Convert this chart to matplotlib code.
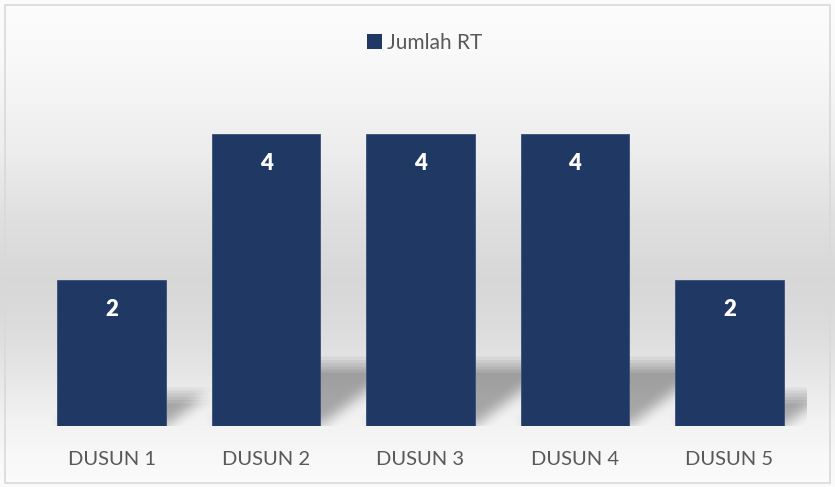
import numpy as np
import matplotlib
matplotlib.use("Agg")
import matplotlib.pyplot as plt
from matplotlib.patches import Rectangle, Patch, Polygon
import matplotlib.transforms as mtransforms

categories = ["DUSUN 1", "DUSUN 2", "DUSUN 3", "DUSUN 4", "DUSUN 5"]
values = [2, 4, 4, 4, 2]
series_name = "Jumlah RT"

BAR = "#203864"
TXT = "#595959"
FONT = "Lato"

W, H = 835, 487
fig = plt.figure(figsize=(W / 100, H / 100), dpi=100)
fig.patch.set_facecolor("white")

# background gradient
bg = fig.add_axes([0, 0, 1, 1], zorder=0)
bg.set_axis_off()
ys = np.array([0, 60, 150, 220, 280, 330, 380, 420, 460, 487])
gs = np.array([0.99, 0.975, 0.93, 0.875, 0.845, 0.865, 0.91, 0.95, 0.975, 0.985])
yy = np.arange(H)
col = np.interp(yy, ys, gs)
img = np.repeat(col[:, None], 2, axis=1)
bg.imshow(np.dstack([img, img, img]), aspect="auto", extent=[0, 1, 0, 1], origin="upper")
bg.add_patch(Rectangle((5 / W, 4 / H), 825 / W, 478 / H, transform=bg.transAxes,
                       fill=False, edgecolor="#d9d9d9", linewidth=1.2))
bg.set_xlim(0, 1)
bg.set_ylim(0, 1)

left = 34.25 / W
right = 806.75 / W
bottom = (H - 426) / H
top = (H - 61) / H
ax = fig.add_axes([left, bottom, right - left, top - bottom], zorder=1)
ax.patch.set_alpha(0)
x = np.arange(len(categories))
bw = 0.705
ax.set_xlim(-0.5, len(categories) - 0.5)
ax.set_ylim(0, 5)

# perspective shadows (blurred by layering offset copies)
for xi, v in zip(x, values):
    x0, x1 = xi - bw / 2, xi + bw / 2
    hs = 0.21 * v
    dx = 0.13 * v
    pts = [(x0, 0), (x1, 0), (x1 + dx, hs), (x0 + dx, hs)]
    for ox in np.linspace(-8, 8, 6):
        for oy in np.linspace(-8, 8, 6):
            tr = mtransforms.offset_copy(ax.transData, fig=fig, x=ox * 0.72, y=oy * 0.72, units="points")
            ax.add_patch(Polygon(pts, closed=True, facecolor="black", edgecolor="none",
                                 alpha=0.0065, transform=tr, zorder=1))

bars = ax.bar(x, values, width=bw, color=BAR, edgecolor="#3a4f7a", linewidth=0.6, zorder=3,
              label=series_name)

for xi, v in zip(x, values):
    ax.annotate(str(v), (xi, v), xytext=(0, -21), textcoords="offset points",
                ha="center", va="center", color="white", fontsize=16,
                fontweight="heavy", family=FONT, zorder=4)

ax.set_xticks(x)
ax.set_xticklabels(categories, fontsize=14.5, color=TXT, family=FONT)
ax.tick_params(axis="x", length=0, pad=18)
ax.set_yticks([])
for s in ax.spines.values():
    s.set_visible(False)

fig.legend(handles=[Patch(facecolor=BAR, edgecolor="none")], labels=[series_name],
           loc="center", bbox_to_anchor=(425 / W, 1 - 43 / H), frameon=False,
           handlelength=0.7, handleheight=0.7, handletextpad=0.25,
           prop={"family": FONT, "size": 15}, labelcolor=TXT)

fig.savefig("out.png", dpi=100)
